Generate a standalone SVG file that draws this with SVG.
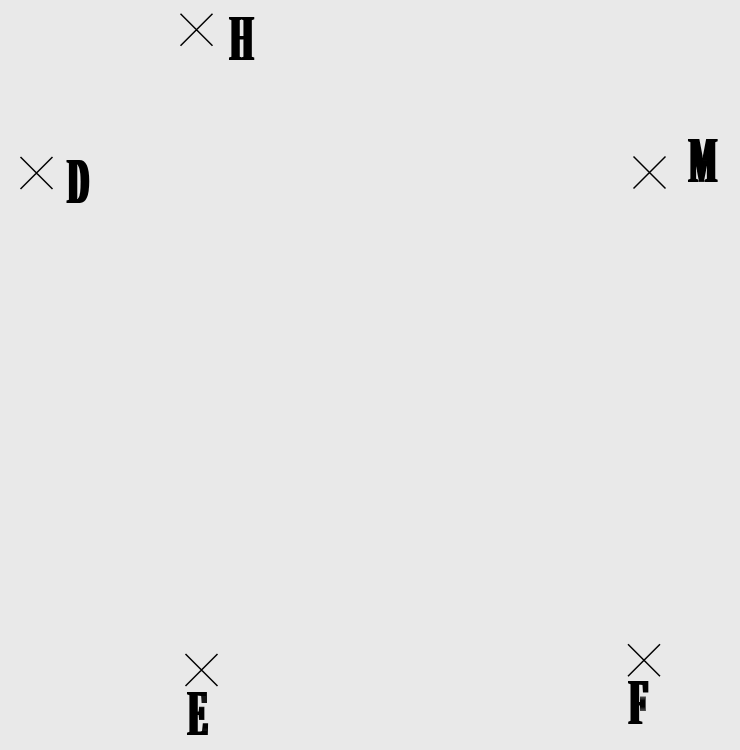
<svg xmlns="http://www.w3.org/2000/svg" width="740" height="750" viewBox="0 0 740 750">
<style>
.x{stroke:#000;stroke-width:1.5;fill:none}
.l{font-family:"Liberation Serif","Times New Roman",serif;font-weight:bold;font-size:65px;fill:#000}
.fat{filter:url(#fat)}
</style>
<defs>
<path id="cross" class="x" d="M-16,-16L16,16M16,-16L-16,16"/>
<filter id="fat" x="-20%" y="-20%" width="140%" height="140%" filterUnits="objectBoundingBox">
<feMorphology operator="dilate" radius="1.6 0"/>
</filter>
</defs>
<rect width="740" height="750" fill="#e9e9e9"/>
<g id="node-H"><use href="#cross" x="196.5" y="29.7"/><g class="fat"><text class="l" transform="translate(230.5,60) scale(0.44,1)">H</text></g></g>
<g id="node-D"><use href="#cross" x="36.5" y="173"/><g class="fat"><text class="l" transform="translate(68,203.3) scale(0.44,1)">D</text></g></g>
<g id="node-M"><use href="#cross" x="649.5" y="172.5"/><g class="fat"><text class="l" transform="translate(689.5,181.7) scale(0.44,1)">M</text></g></g>
<g id="node-E"><use href="#cross" x="201.5" y="670"/><g class="fat"><text class="l" transform="translate(188.5,735) scale(0.44,1)">E</text></g></g>
<g id="node-F"><use href="#cross" x="644" y="660.3"/><g class="fat"><text class="l" transform="translate(629.5,724) scale(0.46,1)">F</text></g></g>
<g id="connectors"/>
</svg>
